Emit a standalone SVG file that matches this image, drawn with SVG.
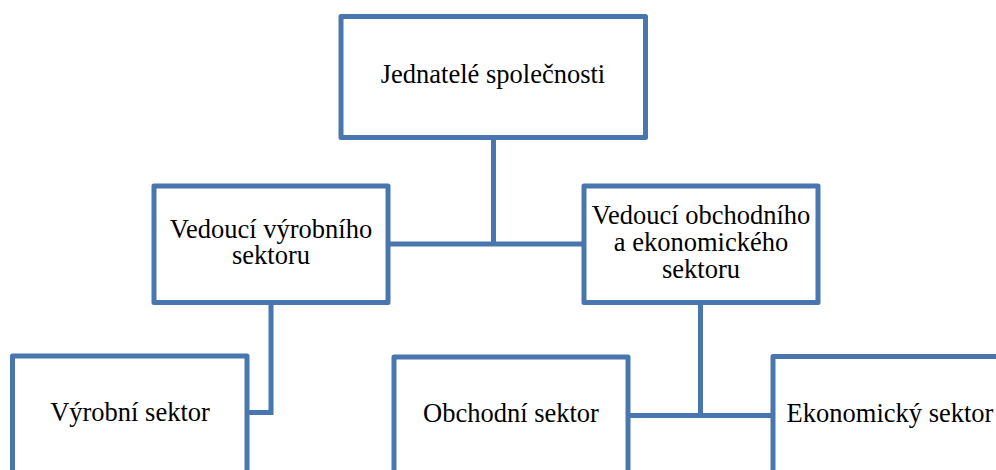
<svg xmlns="http://www.w3.org/2000/svg" width="996" height="470" viewBox="0 0 996 470">
<style>
.box{fill:#fff;stroke:#4A76B0;stroke-width:5;stroke-linejoin:round}
.con{fill:none;stroke:#4A76B0;stroke-width:5}
text{font-family:"Liberation Serif","Times New Roman",serif;font-size:26.5px;fill:#000;text-anchor:middle}
</style>
<rect width="996" height="470" fill="#fff"/>
<g id="connectors">
<path class="con" d="M493.5 137.5V244M388 244H584"/>
<path class="con" d="M271 302.5V412.5H247"/>
<path class="con" d="M700.5 302.5V415.5M628 415.5H773"/>
</g>
<g id="n-jednatele">
<rect class="box" x="341" y="16.5" width="304.5" height="121"/>
<text x="493" y="83">Jednatelé společnosti</text>
</g>
<g id="n-vedouci-vyroba">
<rect class="box" x="154" y="186" width="234" height="116.5"/>
<text x="271" y="237.7">Vedoucí výrobního</text>
<text x="271" y="264.3">sektoru</text>
</g>
<g id="n-vedouci-obchod">
<rect class="box" x="584" y="186" width="234" height="116.5"/>
<text x="701" y="224.3">Vedoucí obchodního</text>
<text x="701" y="251">a ekonomického</text>
<text x="701" y="277.7">sektoru</text>
</g>
<g id="n-vyrobni">
<rect class="box" x="12.5" y="356" width="234.5" height="120"/>
<text x="130" y="420.5">Výrobní sektor</text>
</g>
<g id="n-obchodni">
<rect class="box" x="394" y="357" width="234" height="120"/>
<text x="511" y="421.5">Obchodní sektor</text>
</g>
<g id="n-ekonomicky">
<rect class="box" x="773" y="356.5" width="234" height="120"/>
<text x="890" y="422">Ekonomický sektor</text>
</g>
</svg>
